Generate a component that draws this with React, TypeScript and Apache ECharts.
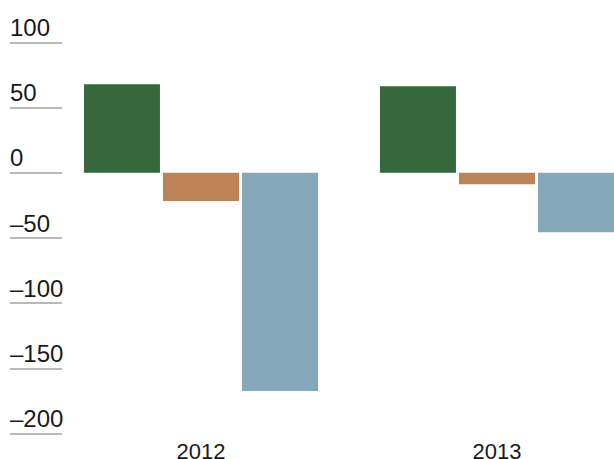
import React, { useEffect, useRef } from "react";
import * as echarts from "echarts";

const categories = ["2012", "2013"];
const seriesGreen = [68, 66.5];
const seriesOrange = [-21.7, -8.7];
const seriesBlue = [-167.4, -45.5];
const yTickLabels: Record<string, string> = {
  "100": "100",
  "50": "50",
  "0": "0",
  "-50": "–50",
  "-100": "–100",
  "-150": "–150",
  "-200": "–200",
};

const FONT = "'Liberation Sans', Arial, Helvetica, sans-serif";

export default function App() {
  const ref = useRef<HTMLDivElement>(null);
  useEffect(() => {
    if (!ref.current) return;
    const chart = echarts.init(ref.current, undefined, { renderer: "svg" });
    const yCommon = { type: "value" as const, min: -200, max: 100, interval: 50 };
    chart.setOption({
      animation: false,
      backgroundColor: "#ffffff",
      grid: [
        { left: 10, width: 52, top: 42.5, height: 391, containLabel: false, outerBoundsMode: "none" },
        { left: 53, width: 592, top: 42.5, height: 391, containLabel: false, outerBoundsMode: "none" },
      ],
      xAxis: [
        { gridIndex: 0, type: "value", show: false, min: 0, max: 1 },
        {
          gridIndex: 1,
          type: "category",
          data: categories,
          axisLine: { show: false },
          axisTick: { show: false },
          axisLabel: { color: "#1a1a1a", fontSize: 22, fontFamily: FONT, margin: 7 },
        },
      ],
      yAxis: [
        {
          ...yCommon,
          gridIndex: 0,
          axisLine: { show: false },
          axisTick: { show: false },
          splitLine: { show: true, lineStyle: { color: "#a3a39b", width: 1.5 } },
          axisLabel: {
            inside: true,
            margin: 0,
            align: "left",
            verticalAlign: "bottom",
            padding: [0, 0, 3, 0],
            color: "#1a1a1a",
            fontSize: 24,
            fontFamily: FONT,
            formatter: (v: number) => yTickLabels[String(v)] ?? String(v),
          },
        },
        { ...yCommon, gridIndex: 1, show: false, splitLine: { show: false } },
      ],
      series: [
        {
          type: "bar",
          xAxisIndex: 1,
          yAxisIndex: 1,
          data: seriesGreen,
          barWidth: 76,
          barGap: "4%",
          itemStyle: { color: "#36673d" },
        },
        {
          type: "bar",
          xAxisIndex: 1,
          yAxisIndex: 1,
          data: seriesOrange,
          barWidth: 76,
          barGap: "4%",
          itemStyle: { color: "#bb8356" },
        },
        {
          type: "bar",
          xAxisIndex: 1,
          yAxisIndex: 1,
          data: seriesBlue,
          barWidth: 76,
          barGap: "4%",
          itemStyle: { color: "#84a7b9" },
        },
      ],
    });
    return () => chart.dispose();
  }, []);
  return (
    <div
      ref={ref}
      style={{ position: "fixed", left: 0, top: 0, width: 614, height: 459, background: "#fff" }}
    />
  );
}
